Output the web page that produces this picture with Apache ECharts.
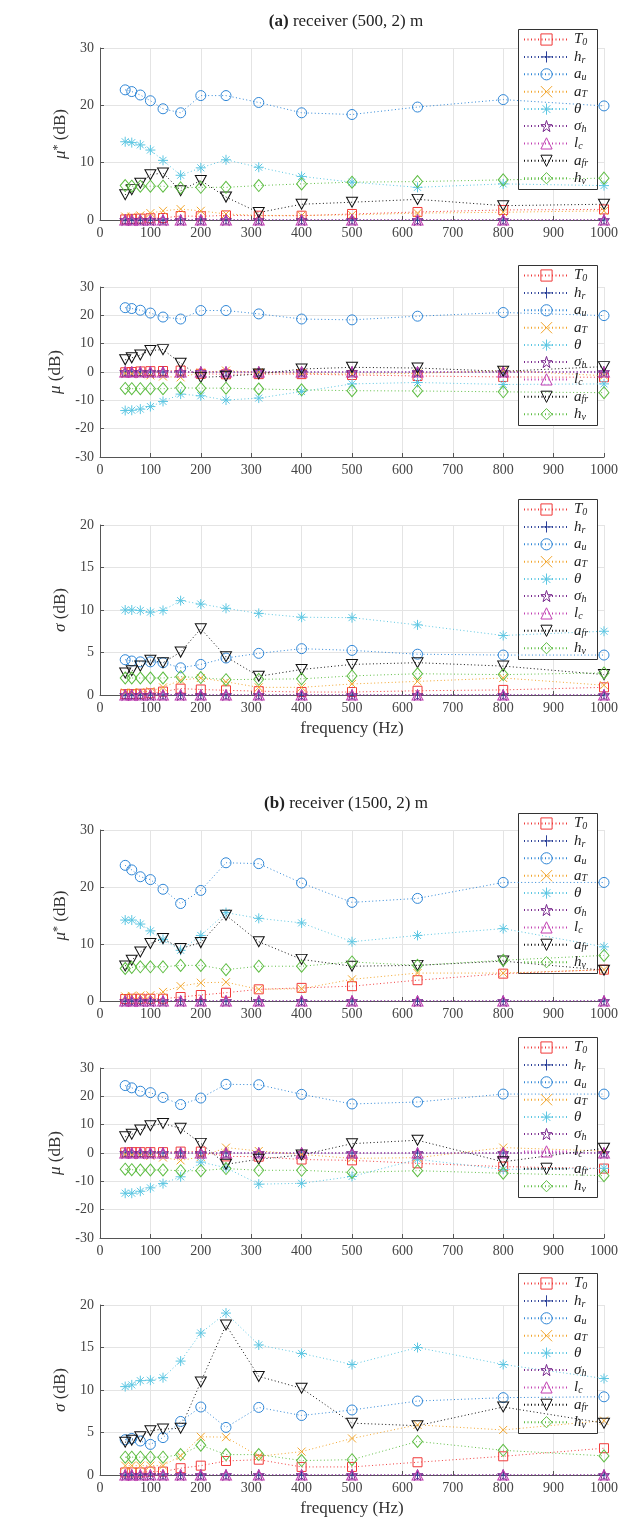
<!DOCTYPE html>
<html>
<head>
<meta charset="utf-8">
<script src="https://cdn.jsdelivr.net/npm/echarts@6/dist/echarts.min.js"></script>
<style>
  html, body { margin: 0; padding: 0; background: #fff; }
  #main { width: 621px; height: 1520px; }
</style>
</head>
<body>
<div id="main"></div>
<script>
// third-octave band centres
var freq = [50, 63, 80, 100, 125, 160, 200, 250, 315, 400, 500, 630, 800, 1000];
var flat0 = [0, 0, 0, 0, 0, 0, 0, 0, 0, 0, 0, 0, 0, 0];

// (a) receiver (500,2) m  --  mu*
var a1_T0 = [0.1, 0.2, 0.25, 0.3, 0.35, 0.7, 0.65, 0.8, 0.75, 0.75, 1.05, 1.4, 1.75, 1.85];
var a1_au = [22.7, 22.4, 21.8, 20.8, 19.4, 18.7, 21.7, 21.7, 20.5, 18.7, 18.4, 19.7, 21.0, 19.9];
var a1_aT = [0.6, 0.6, 0.8, 1.2, 1.6, 1.9, 1.6, 1.05, 0.8, 0.8, 0.9, 1.2, 1.35, 1.6];
var a1_th = [13.65, 13.5, 13.1, 12.2, 10.4, 7.8, 9.1, 10.5, 9.2, 7.6, 6.6, 5.7, 6.3, 6.0];
var a1_afr = [4.4, 5.3, 6.4, 7.9, 8.2, 5.1, 6.9, 4.0, 1.3, 2.75, 3.1, 3.6, 2.5, 2.75];
var a1_hv = [6.0, 5.9, 5.9, 5.9, 5.9, 5.6, 5.7, 5.7, 6.0, 6.3, 6.6, 6.7, 7.0, 7.3];

// (a) mu
var a2_T0 = [-0.1, 0, 0.2, 0.3, 0.35, 0.5, -0.65, -0.8, -0.75, -0.75, -1.05, -1.4, -1.75, -1.85];
var a2_au = [22.7, 22.4, 21.8, 20.8, 19.4, 18.7, 21.7, 21.7, 20.5, 18.7, 18.4, 19.7, 21.0, 19.9];
var a2_aT = [-0.5, -0.6, -0.8, -1.2, -1.6, -1.9, -0.2, 0.5, -0.1, -0.5, -0.7, -0.5, 0.5, -1.3];
var a2_th = [-13.6, -13.5, -13.1, -12.2, -10.4, -7.8, -8.4, -9.9, -9.2, -6.9, -4.2, -3.7, -4.4, -4.2];
var a2_afr = [4.3, 5.0, 6.0, 7.6, 7.9, 3.1, -1.9, -1.5, -0.7, 1.05, 1.65, 1.4, 0.25, 1.9];
var a2_hv = [-5.8, -5.9, -5.9, -5.9, -5.9, -5.6, -5.7, -5.7, -6.0, -6.3, -6.6, -6.7, -7.0, -7.3];

// (a) sigma
var a3_T0 = [0.1, 0.1, 0.15, 0.2, 0.4, 0.75, 0.65, 0.55, 0.45, 0.35, 0.35, 0.5, 0.6, 0.9];
var a3_au = [4.15, 4.0, 3.9, 3.9, 3.8, 3.2, 3.6, 4.35, 4.9, 5.45, 5.25, 4.8, 4.7, 4.7];
var a3_aT = [0.3, 0.3, 0.35, 0.45, 0.9, 1.75, 2.0, 1.55, 0.9, 0.9, 1.3, 1.6, 2.0, 1.15];
var a3_th = [10.0, 10.0, 9.95, 9.75, 9.95, 11.1, 10.7, 10.2, 9.6, 9.15, 9.1, 8.25, 7.0, 7.5];
var a3_afr = [2.6, 2.85, 3.4, 4.1, 3.8, 5.05, 7.8, 4.5, 2.2, 3.0, 3.6, 3.8, 3.4, 2.4];
var a3_hv = [2.0, 2.0, 2.0, 2.0, 2.0, 2.15, 2.05, 1.8, 1.85, 1.9, 2.25, 2.5, 2.4, 2.6];

// (b) receiver (1500,2) m  --  mu*
var b1_T0 = [0.35, 0.4, 0.4, 0.4, 0.4, 0.7, 1.05, 1.45, 2.05, 2.3, 2.6, 3.65, 4.8, 5.5];
var b1_au = [23.8, 23.0, 21.8, 21.3, 19.6, 17.1, 19.4, 24.25, 24.1, 20.7, 17.3, 18.0, 20.8, 20.8];
var b1_aT = [0.8, 0.9, 0.95, 1.0, 1.6, 2.6, 3.2, 3.3, 2.05, 2.15, 3.8, 4.9, 4.9, 5.5];
var b1_th = [14.2, 14.2, 13.5, 12.3, 10.8, 8.9, 11.5, 15.5, 14.5, 13.7, 10.4, 11.5, 12.7, 9.5];
var b1_afr = [6.15, 7.15, 8.6, 10.1, 10.95, 9.2, 10.25, 15.05, 10.4, 7.3, 6.1, 6.25, 7.0, 5.4];
var b1_hv = [5.7, 5.9, 6.0, 6.0, 6.0, 6.25, 6.25, 5.5, 6.1, 6.1, 6.85, 6.25, 7.15, 8.0];

// (b) mu
var b2_T0 = [0.2, 0.3, 0.3, 0.3, 0.3, 0.5, 0.5, -1.2, -1.3, -2.3, -2.6, -3.65, -4.8, -5.5];
var b2_au = [23.8, 23.0, 21.8, 21.3, 19.6, 17.1, 19.4, 24.25, 24.1, 20.7, 17.3, 18.0, 20.8, 20.8];
var b2_aT = [-0.5, -0.7, -0.8, -1.0, -1.6, -2.6, -1.4, 1.9, 0.7, -0.5, -1.9, -1.65, 1.9, 0.7];
var b2_th = [-14.2, -14.2, -13.5, -12.3, -10.8, -8.4, -3.2, -5.2, -11.0, -10.7, -8.3, -2.2, -5.8, -5.4];
var b2_afr = [5.7, 6.6, 8.1, 9.6, 10.4, 8.7, 3.4, -4.0, -2.2, -0.7, 3.3, 4.5, -3.1, 1.65];
var b2_hv = [-5.7, -5.9, -6.0, -6.0, -6.0, -6.25, -6.25, -5.5, -6.1, -6.1, -6.85, -6.25, -7.15, -8.0];

// (b) sigma
var b3_T0 = [0.3, 0.3, 0.3, 0.4, 0.4, 0.8, 1.1, 1.65, 1.8, 0.95, 0.95, 1.5, 2.2, 3.15];
var b3_au = [4.15, 4.3, 4.0, 3.6, 4.4, 6.3, 8.0, 5.6, 7.95, 7.0, 7.65, 8.7, 9.1, 9.2];
var b3_aT = [1.1, 1.1, 1.1, 1.1, 1.1, 2.25, 4.5, 4.45, 2.2, 2.75, 4.3, 5.9, 5.3, 6.4];
var b3_th = [10.4, 10.6, 11.1, 11.15, 11.45, 13.4, 16.7, 19.05, 15.3, 14.3, 13.0, 15.0, 13.0, 11.35];
var b3_afr = [3.85, 4.1, 4.5, 5.2, 5.4, 5.5, 10.95, 17.65, 11.6, 10.2, 6.1, 5.8, 8.0, 6.1];
var b3_hv = [2.1, 2.1, 2.1, 2.1, 2.1, 2.4, 3.5, 2.4, 2.4, 1.7, 1.8, 3.95, 2.9, 2.25];

var params = ['T0', 'hr', 'au', 'aT', 'theta', 'sh', 'lc', 'afr', 'hv'];
var labels = {
  T0: '{i|T}{s|0}', hr: '{i|h}{s|r}', au: '{i|a}{s|u}', aT: '{i|a}{s|T}', theta: '{i|θ}',
  sh: '{i|σ}{s|h}', lc: '{i|l}{s|c}', afr: '{i|a}{s|fr}', hv: '{i|h}{s|v}'
};
var colors = ['#f03a3a', '#2a3f98', '#2f86d6', '#f2a52c', '#5cc6e2', '#7a2a8e', '#c23fb2', '#111111', '#5ebd43'];
var symbols = [
  'rect',
  'path://M5,0L5,10M0,5L10,5',
  'circle',
  'path://M0,0L10,10M10,0L0,10',
  'path://M5,0L5,10M0,5L10,5M1.5,1.5L8.5,8.5M8.5,1.5L1.5,8.5',
  'path://M5,0L6.12,3.45L9.76,3.45L6.82,5.59L7.94,9.05L5,6.91L2.06,9.05L3.18,5.59L0.24,3.45L3.88,3.45Z',
  'path://M5,0L10,8.66L0,8.66Z',
  'path://M0,0L10,0L5,8.66Z',
  'diamond'
];
var sizes = [9, 10, 10, 8, 10, 11, [11, 10], [11, 10], [10, 12]];

var FONT = 'Liberation Serif';

var panels = [
  {top: 48, height: 172, min: 0, max: 30, step: 10, name: '{g|μ}{sup|*} (dB)', box: 29, xname: false,
   data: [a1_T0, flat0, a1_au, a1_aT, a1_th, flat0, flat0, a1_afr, a1_hv]},
  {top: 287, height: 170, min: -30, max: 30, step: 10, name: '{g|μ} (dB)', box: 265, xname: false,
   data: [a2_T0, flat0, a2_au, a2_aT, a2_th, flat0, flat0, a2_afr, a2_hv]},
  {top: 525, height: 170, min: 0, max: 20, step: 5, name: '{g|σ} (dB)', box: 499, xname: true,
   data: [a3_T0, flat0, a3_au, a3_aT, a3_th, flat0, flat0, a3_afr, a3_hv]},
  {top: 830, height: 171, min: 0, max: 30, step: 10, name: '{g|μ}{sup|*} (dB)', box: 813, xname: false,
   data: [b1_T0, flat0, b1_au, b1_aT, b1_th, flat0, flat0, b1_afr, b1_hv]},
  {top: 1068, height: 170, min: -30, max: 30, step: 10, name: '{g|μ} (dB)', box: 1037, xname: false,
   data: [b2_T0, flat0, b2_au, b2_aT, b2_th, flat0, flat0, b2_afr, b2_hv]},
  {top: 1305, height: 170, min: 0, max: 20, step: 5, name: '{g|σ} (dB)', box: 1273, xname: true,
   data: [b3_T0, flat0, b3_au, b3_aT, b3_th, flat0, flat0, b3_afr, b3_hv]}
];

var grids = [], xAxes = [], yAxes = [], legends = [], boxes = [], series = [];

panels.forEach(function (p, idx) {
  grids.push({left: 100, right: 17, top: p.top, height: p.height});
  xAxes.push({
    type: 'value', gridIndex: idx, min: 0, max: 1000, interval: 100,
    name: p.xname ? 'frequency (Hz)' : '', nameLocation: 'middle', nameGap: 25,
    nameTextStyle: {fontFamily: FONT, fontSize: 17, color: '#333'},
    axisLine: {onZero: false, lineStyle: {color: '#555', width: 1}},
    axisTick: {inside: true, length: 4, lineStyle: {color: '#555'}},
    axisLabel: {fontFamily: FONT, fontSize: 14, color: '#444', margin: 6,
      formatter: function (v) { return String(v); }},
    splitLine: {show: true, lineStyle: {color: '#e4e4e4', width: 1}}
  });
  yAxes.push({
    type: 'value', gridIndex: idx, min: p.min, max: p.max, interval: p.step,
    name: p.name, nameLocation: 'middle', nameGap: 29, nameRotate: 90,
    nameTextStyle: {
      fontFamily: FONT, fontSize: 17, color: '#333',
      rich: {
        g: {fontFamily: FONT, fontSize: 17, fontStyle: 'italic', color: '#333'},
        sup: {fontFamily: FONT, fontSize: 12, color: '#333', verticalAlign: 'top', lineHeight: 10}
      }
    },
    axisLine: {show: true, lineStyle: {color: '#555', width: 1}},
    axisTick: {show: true, inside: true, length: 4, lineStyle: {color: '#555'}},
    axisLabel: {fontFamily: FONT, fontSize: 14, color: '#444', margin: 6},
    splitLine: {show: true, lineStyle: {color: '#e4e4e4', width: 1}}
  });
  boxes.push({
    type: 'rect', z: 3, left: 518, top: p.box,
    shape: {width: 79, height: 160},
    style: {fill: '#fff', stroke: '#333', lineWidth: 1}
  });
  legends.push({
    orient: 'vertical', left: 523, top: p.box + 3, padding: 0,
    itemWidth: 45, itemHeight: 14, itemGap: 1.9,
    data: params,
    itemStyle: {borderWidth: 1},
    formatter: function (n) { return labels[n]; },
    textStyle: {
      fontFamily: FONT, color: '#222',
      rich: {
        i: {fontFamily: FONT, fontSize: 15, fontStyle: 'italic', color: '#222', lineHeight: 16},
        s: {fontFamily: FONT, fontSize: 10, fontStyle: 'italic', color: '#222', lineHeight: 9, verticalAlign: 'bottom'}
      }
    }
  });
  params.forEach(function (name, k) {
    series.push({
      name: name, type: 'line', xAxisIndex: idx, yAxisIndex: idx,
      data: freq.map(function (f, i) { return [f, p.data[k][i]]; }),
      symbol: symbols[k], symbolSize: sizes[k],
      itemStyle: {color: 'rgba(0,0,0,0)', borderColor: colors[k], borderWidth: 1},
      lineStyle: {color: colors[k], width: 1, type: [1, 2.5]},
      emphasis: {disabled: true}
    });
  });
});

var option = {
  animation: false,
  title: [
    {text: '{b|(a)} receiver (500, 2) m', left: 341, top: 8, textAlign: 'center',
     textStyle: {fontFamily: FONT, fontSize: 17, fontWeight: 'normal', color: '#222',
       rich: {b: {fontFamily: FONT, fontSize: 17, fontWeight: 'bold', color: '#222'}}}},
    {text: '{b|(b)} receiver (1500, 2) m', left: 341, top: 790, textAlign: 'center',
     textStyle: {fontFamily: FONT, fontSize: 17, fontWeight: 'normal', color: '#222',
       rich: {b: {fontFamily: FONT, fontSize: 17, fontWeight: 'bold', color: '#222'}}}}
  ],
  grid: grids,
  xAxis: xAxes,
  yAxis: yAxes,
  legend: legends,
  graphic: boxes,
  series: series
};

var myChart = echarts.init(document.getElementById('main'));
myChart.setOption(option);
</script>
</body>
</html>
